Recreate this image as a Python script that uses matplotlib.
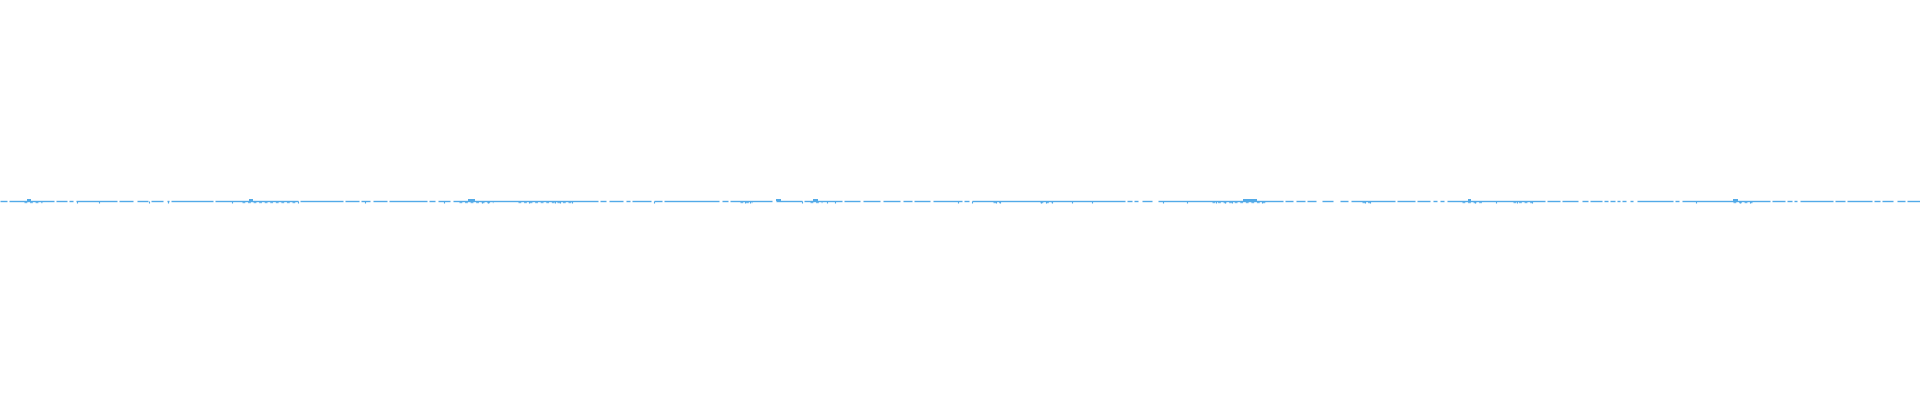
import matplotlib
matplotlib.use("Agg")
import matplotlib.pyplot as plt

# Flat trace, broken by short gaps (x positions on a 0..1920 scale)
gap_starts = [7, 54, 67, 73, 117, 133, 148, 163, 169, 213, 298, 343, 359, 370, 387, 427, 435,
              450, 598, 606, 623, 630, 651, 662, 719, 728, 772, 802, 842, 860, 880, 900, 912,
              930, 962, 969, 1125, 1132, 1138, 1152, 1283, 1293, 1305, 1316, 1333, 1348, 1395,
              1415, 1430, 1437, 1444, 1545, 1560, 1578, 1588, 1602, 1608, 1615, 1620, 1626,
              1633, 1673, 1679, 1770, 1785, 1792, 1797, 1833, 1845, 1872, 1880, 1893, 1905]
gap_ends = [9, 56, 69, 76, 119, 137, 151, 167, 171, 215, 300, 345, 361, 373, 389, 429, 438,
            453, 600, 609, 626, 632, 654, 664, 722, 730, 776, 804, 844, 863, 883, 903, 914,
            933, 964, 972, 1127, 1134, 1142, 1158, 1285, 1296, 1307, 1322, 1340, 1351, 1397,
            1417, 1433, 1440, 1447, 1547, 1562, 1582, 1590, 1604, 1610, 1617, 1622, 1630,
            1637, 1675, 1682, 1772, 1787, 1794, 1800, 1835, 1847, 1874, 1882, 1897, 1907]

# single small dips below the trace
dip_x = [77, 99, 149, 168, 232, 298, 365, 444, 482, 488, 529, 555, 560, 572, 654, 745, 750,
         802, 827, 835, 958, 972, 996, 1000, 1041, 1046, 1052, 1072, 1092, 1163, 1187,
         1216, 1225, 1232, 1262, 1365, 1370, 1475, 1496, 1517, 1532, 1696, 1740, 1750]
dip_depth = [2, 2, 2, 2, 2, 2, 2, 2, 2, 2, 2, 2, 2, 2, 2, 2, 2,
             2, 2, 2, 2, 2, 2, 2, 2, 2, 2, 2, 2, 2, 2,
             2, 2, 2, 2, 2, 2, 2, 2, 2, 2, 2, 2, 2]

# stretches with dense small wiggles just under the trace
band_starts = [24, 242, 459, 518, 740, 810, 993, 1040, 1212, 1362, 1462, 1513, 1733]
band_ends = [42, 296, 493, 573, 752, 822, 1000, 1052, 1265, 1370, 1482, 1532, 1752]

# small raised bumps above the trace
bump_starts = [27, 249, 468, 776, 813, 1243, 1468, 1733]
bump_ends = [31, 253, 475, 781, 818, 1257, 1471, 1738]
bump_height = [2, 2, 2, 2, 2, 2, 2, 2]

BLUE = "#52aae8"

fig = plt.figure(figsize=(19.2, 4.0), dpi=100)
ax = fig.add_axes([0, 0, 1, 1])
ax.set_xlim(0, 1920)
ax.set_ylim(-199, 201)
ax.axis("off")

# line segments between gaps
seg_starts = [0] + gap_ends
seg_ends = gap_starts + [1920]
ax.hlines([0] * len(seg_starts), seg_starts, seg_ends, colors=BLUE, linewidth=1.0)

ax.hlines([-1] * len(band_starts), band_starts, band_ends, colors=BLUE,
          linewidth=1.0, alpha=0.8, linestyles=(0, (2, 2)))
ax.vlines(dip_x, [-d for d in dip_depth], [0] * len(dip_x), colors=BLUE, linewidth=0.8)
for s, e, h in zip(bump_starts, bump_ends, bump_height):
    ax.fill_between([s, e], 0, h, color=BLUE, linewidth=0)

fig.savefig("out.png", dpi=100)
plt.close(fig)
